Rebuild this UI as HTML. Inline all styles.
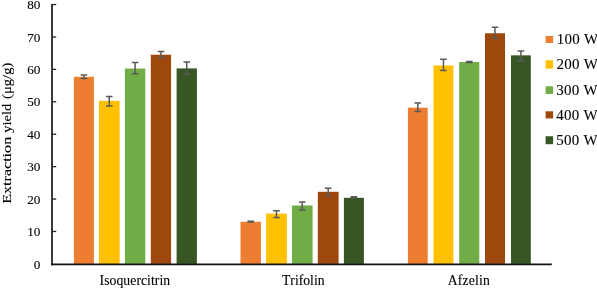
<!DOCTYPE html><html><head><meta charset="utf-8"><title>Extraction yield chart</title>
<style>html,body{margin:0;padding:0;background:#fff}svg{display:block}text{font-family:"Liberation Serif","Times New Roman",serif;fill:#000;font-kerning:none;stroke:#000;stroke-width:0.1px}</style></head><body>
<svg width="597" height="289" viewBox="0 0 597 289">
<rect width="597" height="289" fill="#fff"/>
<rect x="73.90" y="76.80" width="20.00" height="187.10" fill="#ED7D31"/>
<rect x="98.90" y="100.85" width="20.70" height="163.05" fill="#FFC000"/>
<rect x="124.90" y="68.55" width="20.40" height="195.35" fill="#70AD47"/>
<rect x="150.80" y="54.70" width="20.30" height="209.20" fill="#9E480E"/>
<rect x="176.60" y="68.40" width="20.30" height="195.50" fill="#375623"/>
<rect x="240.50" y="221.75" width="20.40" height="42.15" fill="#ED7D31"/>
<rect x="266.10" y="213.60" width="20.80" height="50.30" fill="#FFC000"/>
<rect x="291.90" y="205.50" width="20.70" height="58.40" fill="#70AD47"/>
<rect x="317.80" y="191.80" width="20.80" height="72.10" fill="#9E480E"/>
<rect x="343.90" y="197.80" width="20.00" height="66.10" fill="#375623"/>
<rect x="407.90" y="107.70" width="19.80" height="156.20" fill="#ED7D31"/>
<rect x="433.50" y="65.47" width="19.90" height="198.43" fill="#FFC000"/>
<rect x="459.20" y="62.00" width="20.10" height="201.90" fill="#70AD47"/>
<rect x="485.00" y="33.25" width="20.00" height="230.65" fill="#9E480E"/>
<rect x="511.00" y="55.35" width="19.80" height="208.55" fill="#375623"/>
<path d="M80.60 75.10H87.20M80.60 78.50H87.20M83.90 75.10V78.50" stroke="#595959" stroke-width="1.5" fill="none"/>
<path d="M105.95 96.60H112.55M105.95 106.00H112.55M109.25 96.60V106.00" stroke="#595959" stroke-width="1.5" fill="none"/>
<path d="M131.80 62.50H138.40M131.80 73.75H138.40M135.10 62.50V73.75" stroke="#595959" stroke-width="1.5" fill="none"/>
<path d="M157.65 51.45H164.25M157.65 57.95H164.25M160.95 51.45V57.95" stroke="#595959" stroke-width="1.5" fill="none"/>
<path d="M183.45 62.05H190.05M183.45 74.55H190.05M186.75 62.05V74.55" stroke="#595959" stroke-width="1.5" fill="none"/>
<path d="M247.40 221.20H254.00M247.40 222.00H254.00M250.70 221.20V222.00" stroke="#595959" stroke-width="1.5" fill="none"/>
<path d="M273.20 210.70H279.80M273.20 217.45H279.80M276.50 210.70V217.45" stroke="#595959" stroke-width="1.5" fill="none"/>
<path d="M298.95 202.10H305.55M298.95 210.00H305.55M302.25 202.10V210.00" stroke="#595959" stroke-width="1.5" fill="none"/>
<path d="M324.90 188.15H331.50M324.90 195.55H331.50M328.20 188.15V195.55" stroke="#595959" stroke-width="1.5" fill="none"/>
<path d="M350.60 196.85H357.20M350.60 197.95H357.20M353.90 196.85V197.95" stroke="#595959" stroke-width="1.5" fill="none"/>
<path d="M414.50 102.90H421.10M414.50 111.50H421.10M417.80 102.90V111.50" stroke="#595959" stroke-width="1.5" fill="none"/>
<path d="M440.15 59.20H446.75M440.15 70.50H446.75M443.45 59.20V70.50" stroke="#595959" stroke-width="1.5" fill="none"/>
<path d="M465.95 61.50H472.55M465.95 62.40H472.55M469.25 61.50V62.40" stroke="#595959" stroke-width="1.5" fill="none"/>
<path d="M491.70 27.30H498.30M491.70 38.00H498.30M495.00 27.30V38.00" stroke="#595959" stroke-width="1.5" fill="none"/>
<path d="M517.60 51.00H524.20M517.60 60.70H524.20M520.90 51.00V60.70" stroke="#595959" stroke-width="1.5" fill="none"/>
<path d="M52.0 3.95V265.2" stroke="#3a3a3a" stroke-width="2" fill="none"/>
<path d="M51.0 264.4H551.8" stroke="#111" stroke-width="1.6" fill="none"/>
<path d="M52.0 231.48H56.2" stroke="#262626" stroke-width="1.3" fill="none"/>
<path d="M52.0 199.06H56.2" stroke="#262626" stroke-width="1.3" fill="none"/>
<path d="M52.0 166.64H56.2" stroke="#262626" stroke-width="1.3" fill="none"/>
<path d="M52.0 134.22H56.2" stroke="#262626" stroke-width="1.3" fill="none"/>
<path d="M52.0 101.81H56.2" stroke="#262626" stroke-width="1.3" fill="none"/>
<path d="M52.0 69.39H56.2" stroke="#262626" stroke-width="1.3" fill="none"/>
<path d="M52.0 36.97H56.2" stroke="#262626" stroke-width="1.3" fill="none"/>
<path d="M52.0 4.55H56.2" stroke="#262626" stroke-width="1.3" fill="none"/>
<text transform="translate(40.4 268.75) scale(1 1.02)" font-size="13.2" text-anchor="end">0</text>
<text transform="translate(40.4 236.03) scale(1 1.02)" font-size="13.2" text-anchor="end">10</text>
<text transform="translate(40.4 203.61) scale(1 1.02)" font-size="13.2" text-anchor="end">20</text>
<text transform="translate(40.4 171.19) scale(1 1.02)" font-size="13.2" text-anchor="end">30</text>
<text transform="translate(40.4 138.78) scale(1 1.02)" font-size="13.2" text-anchor="end">40</text>
<text transform="translate(40.4 106.36) scale(1 1.02)" font-size="13.2" text-anchor="end">50</text>
<text transform="translate(40.4 73.94) scale(1 1.02)" font-size="13.2" text-anchor="end">60</text>
<text transform="translate(40.4 41.52) scale(1 1.02)" font-size="13.2" text-anchor="end">70</text>
<text transform="translate(40.4 8.50) scale(1 1.02)" font-size="13.2" text-anchor="end">80</text>
<text transform="translate(11.2 203.8) rotate(-90) scale(1.21 1)" font-size="13.3">Extraction</text>
<text transform="translate(11.2 132.75) rotate(-90) scale(1.094 1)" font-size="13.3">yield</text>
<text transform="translate(11.2 98.9) rotate(-90) scale(1.098 1)" font-size="13.3">(μg/g)</text>
<text x="134.90" y="284.95" font-size="13.7" letter-spacing="0.05" text-anchor="middle">Isoquercitrin</text>
<text x="303.30" y="284.95" font-size="13.7" letter-spacing="0" text-anchor="middle">Trifolin</text>
<text x="468.90" y="284.95" font-size="13.7" letter-spacing="0.17" text-anchor="middle">Afzelin</text>
<rect x="545.6" y="36.00" width="7.5" height="7.00" fill="#ED7D31"/>
<text x="556.7" y="44.25" font-size="15" letter-spacing="0.25">100 W</text>
<rect x="545.6" y="60.30" width="7.5" height="8.40" fill="#FFC000"/>
<text x="556.4" y="69.48" font-size="15" letter-spacing="0.25">200 W</text>
<rect x="545.6" y="86.30" width="7.5" height="7.65" fill="#70AD47"/>
<text x="556.2" y="94.71" font-size="15" letter-spacing="0.25">300 W</text>
<rect x="545.6" y="111.30" width="7.5" height="7.15" fill="#9E480E"/>
<text x="556.2" y="119.94" font-size="15" letter-spacing="0.25">400 W</text>
<rect x="545.6" y="136.25" width="7.5" height="7.95" fill="#375623"/>
<text x="556.2" y="145.17" font-size="15" letter-spacing="0.25">500 W</text>
</svg></body></html>
